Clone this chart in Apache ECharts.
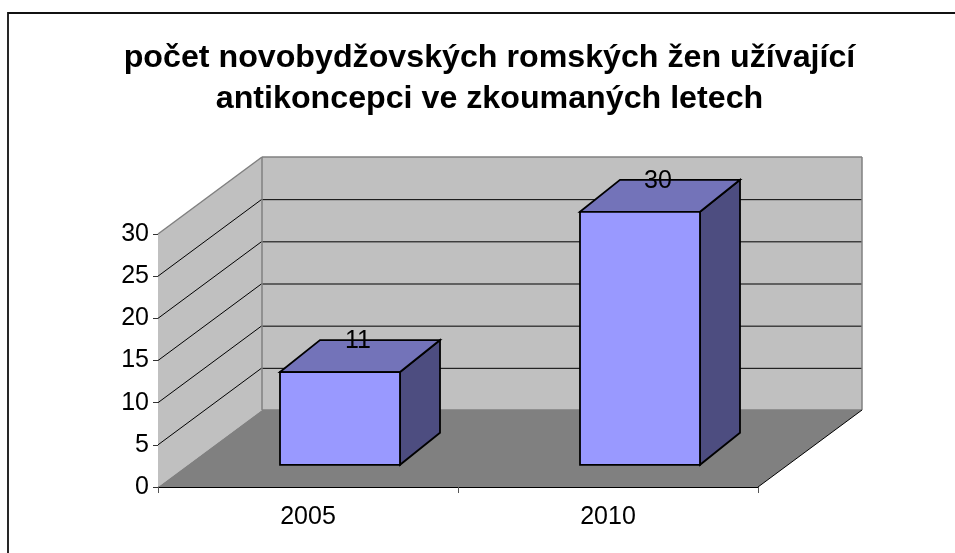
<!DOCTYPE html>
<html>
<head>
<meta charset="utf-8">
<style>html,body{margin:0;padding:0;background:#fff}#c{width:955px;height:553px}</style>
<script src="https://cdn.jsdelivr.net/npm/echarts@6/dist/echarts.min.js"></script>
</head>
<body>
<div id="c"></div>
<script>
var titleText = 'počet novobydžovských romských žen užívající\nantikoncepci ve zkoumaných letech';
var categories = ['2005', '2010'];
var values = [11, 30];
var yTicks = [0, 5, 10, 15, 20, 25, 30];

var FONT = '"Liberation Sans", Arial, sans-serif';
var DEPTH_X = 104, DEPTH_Y = 77;      // oblique projection of the chart box
var BAR_OFF_X = 32, BAR_OFF_Y = 22.2; // bar's front plane inside the box
var BAR_DX = 40, BAR_DY = 32;         // bar's own depth
var BAR_WIDTH_FRAC = 0.4;

function poly(points, fill, stroke, lw) {
  return { type: 'polygon', shape: { points: points },
    style: { fill: fill, stroke: stroke || null, lineWidth: lw || 0, lineJoin: 'miter' } };
}
function seg(a, b, color, lw) {
  return { type: 'line', shape: { x1: a[0], y1: a[1], x2: b[0], y2: b[1] },
    style: { stroke: color, lineWidth: lw, fill: null } };
}
function bounds(api) {
  var band = api.size([1, 0])[0];
  var p0 = api.coord([0, 0]);
  var top = api.coord([0, yTicks[yTicks.length - 1]])[1];
  return { left: p0[0] - band / 2, right: p0[0] - band / 2 + band * categories.length, bottom: p0[1], top: top, band: band };
}

function renderWalls(params, api) {
  var b = bounds(api);
  var D = DEPTH_X, E = DEPTH_Y;
  return { type: 'group', children: [
    poly([[b.left, b.top], [b.left + D, b.top - E], [b.left + D, b.bottom - E], [b.left, b.bottom]], '#c0c0c0'),
    poly([[b.left + D, b.top - E], [b.right + D, b.top - E], [b.right + D, b.bottom - E], [b.left + D, b.bottom - E]], '#c0c0c0'),
    poly([[b.left, b.bottom], [b.right, b.bottom], [b.right + D, b.bottom - E], [b.left + D, b.bottom - E]], '#808080')
  ] };
}
function renderGrid(params, api) {
  var b = bounds(api);
  var y = api.coord([0, api.value(1)])[1];
  var D = DEPTH_X, E = DEPTH_Y;
  var v = api.value(1);
  var kids = [];
  if (v > 0 && v < yTicks[yTicks.length - 1]) {
    kids.push(seg([b.left, y], [b.left + D, y - E], '#000', 1));
    kids.push(seg([b.left + D, y - E + 0.5], [b.right + D, y - E + 0.5], '#000', 1));
  }
  return { type: 'group', children: kids };
}
function renderEdges(params, api) {
  var b = bounds(api);
  var D = DEPTH_X, E = DEPTH_Y, g = '#808080';
  return { type: 'group', children: [
    seg([b.left, b.top], [b.left + D, b.top - E], g, 1.5),
    seg([b.left + D, b.top - E], [b.right + D, b.top - E], g, 1.5),
    seg([b.left + D, b.top - E], [b.left + D, b.bottom - E], g, 1.5),
    seg([b.right + D, b.top - E], [b.right + D, b.bottom - E], g, 1.5),
    seg([b.left + D, b.bottom - E], [b.right + D, b.bottom - E], g, 1.5),
    seg([b.right, b.bottom], [b.right + D, b.bottom - E], '#000', 1)
  ] };
}
function renderBar(params, api) {
  var band = api.size([1, 0])[0];
  var c = api.coord([api.value(0), 0]);
  var t = api.coord([api.value(0), api.value(1)]);
  var w = band * BAR_WIDTH_FRAC;
  var x0 = c[0] + BAR_OFF_X - w / 2, x1 = x0 + w;
  var yb = c[1] - BAR_OFF_Y, yt = t[1] - BAR_OFF_Y;
  var dx = BAR_DX, dy = BAR_DY, s = '#000', lw = 1.8;
  return { type: 'group', children: [
    poly([[x1, yt], [x1 + dx, yt - dy], [x1 + dx, yb - dy], [x1, yb]], '#4d4d80', s, lw),
    poly([[x0, yt], [x0 + dx, yt - dy], [x1 + dx, yt - dy], [x1, yt]], '#7373b9', s, lw),
    poly([[x0, yt], [x1, yt], [x1, yb], [x0, yb]], '#9999ff', s, lw),
    { type: 'text', x: x0 + w / 2 + 18, y: yt - dy + 1,
      style: { text: String(api.value(1)), fill: '#000', font: '25px ' + FONT, align: 'center', verticalAlign: 'middle' } }
  ] };
}

var barData = categories.map(function (c, i) { return [i, values[i]]; });
var gridData = yTicks.map(function (v) { return [0, v]; });

var chart = echarts.init(document.getElementById('c'), null, { renderer: 'canvas' });
chart.setOption({
  animation: false,
  backgroundColor: '#fff',
  title: { text: titleText, left: 484.5, top: 33, textAlign: 'center',
    textStyle: { fontFamily: FONT, fontWeight: 'bold', fontSize: 32.2, lineHeight: 41, color: '#000' } },
  graphic: [{ type: 'polyline', z: -1, shape: { points: [[8, 553], [8, 13], [955, 13]] },
    style: { fill: null, stroke: '#111', lineWidth: 1.8 }, silent: true }],
  grid: { left: 158, right: 197, top: 234, bottom: 66, containLabel: false },
  xAxis: { type: 'category', data: categories,
    axisLine: { lineStyle: { color: '#000', width: 1 } },
    axisTick: { show: true, length: 6, alignWithLabel: false, lineStyle: { color: '#555' } },
    axisLabel: { fontFamily: FONT, fontSize: 25, color: '#000', margin: 18 }, splitLine: { show: false } },
  yAxis: { type: 'value', min: 0, max: 30, interval: 5,
    axisLine: { show: true, lineStyle: { color: '#333', width: 1 } },
    axisTick: { show: true, length: 5, lineStyle: { color: '#333' } },
    axisLabel: { fontFamily: FONT, fontSize: 25, color: '#000', margin: 9 }, splitLine: { show: false } },
  series: [
    { type: 'custom', name: 'walls', data: [[0, 0]], renderItem: renderWalls, encode: { x: 0, y: 1 }, clip: false, z: 1, silent: true },
    { type: 'custom', name: 'grid', data: gridData, renderItem: renderGrid, encode: { x: 0, y: 1 }, clip: false, z: 2, silent: true },
    { type: 'custom', name: 'edges', data: [[0, 0]], renderItem: renderEdges, encode: { x: 0, y: 1 }, clip: false, z: 3, silent: true },
    { type: 'custom', name: 'počet', data: barData, renderItem: renderBar, encode: { x: 0, y: 1 }, clip: false, z: 4, silent: true }
  ]
});
</script>
</body>
</html>
